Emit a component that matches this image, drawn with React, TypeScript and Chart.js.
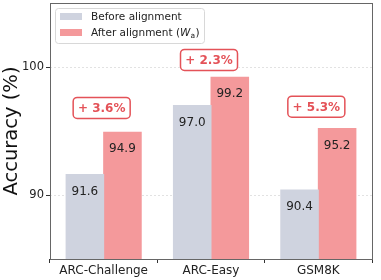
import React, { useEffect, useRef } from "react";
import { Chart, registerables } from "chart.js";

Chart.register(...registerables);

const categories = ["ARC-Challenge", "ARC-Easy", "GSM8K"];
const beforeValues = [91.6, 97.0, 90.4];
const afterValues = [94.9, 99.2, 95.2];
const gainLabels = ["+ 3.6%", "+ 2.3%", "+ 5.3%"];
const gainLabelY = [96.8, 100.55, 96.9];
const yTicks = [90, 100];

const FONT = "'DejaVu Sans', sans-serif";
const BEFORE_COLOR = "rgb(207,211,223)";
const AFTER_COLOR = "rgb(244,153,155)";
const RED = "rgb(228,82,88)";

function roundRect(ctx: CanvasRenderingContext2D, x: number, y: number, w: number, h: number, r: number) {
  ctx.beginPath();
  ctx.moveTo(x + r, y);
  ctx.lineTo(x + w - r, y);
  ctx.arcTo(x + w, y, x + w, y + r, r);
  ctx.lineTo(x + w, y + h - r);
  ctx.arcTo(x + w, y + h, x + w - r, y + h, r);
  ctx.lineTo(x + r, y + h);
  ctx.arcTo(x, y + h, x, y + h - r, r);
  ctx.lineTo(x, y + r);
  ctx.arcTo(x, y, x + r, y, r);
  ctx.closePath();
}

const overlayPlugin = {
  id: "overlay",
  afterDatasetsDraw(chart: any) {
    const ctx: CanvasRenderingContext2D = chart.ctx;
    const area = chart.chartArea;
    const yScale = chart.scales.y;
    ctx.save();
    // value labels
    ctx.font = `12px ${FONT}`;
    ctx.fillStyle = "#222";
    ctx.textAlign = "center";
    ctx.textBaseline = "middle";
    chart.data.datasets.forEach((ds: any, di: number) => {
      const meta = chart.getDatasetMeta(di);
      meta.data.forEach((bar: any, i: number) => {
        ctx.fillText(ds.data[i].toFixed(1), bar.x, bar.y + 17);
      });
    });
    // gain boxes
    const meta0 = chart.getDatasetMeta(0);
    const meta1 = chart.getDatasetMeta(1);
    ctx.font = `bold 12px ${FONT}`;
    gainLabels.forEach((t, i) => {
      const cx = (meta0.data[i].x + meta1.data[i].x) / 2 - 2;
      const cy = yScale.getPixelForValue(gainLabelY[i]);
      const w = 57, h = 21;
      roundRect(ctx, cx - w / 2, cy - h / 2, w, h, 4);
      ctx.fillStyle = "#fff";
      ctx.fill();
      ctx.lineWidth = 1.5;
      ctx.strokeStyle = RED;
      ctx.stroke();
      ctx.fillStyle = RED;
      ctx.fillText(t, cx, cy + 1);
    });
    // frame
    ctx.strokeStyle = "#666";
    ctx.lineWidth = 1;
    ctx.strokeRect(Math.round(area.left) + 0.5, Math.round(area.top) + 0.5, Math.round(area.right - area.left), Math.round(area.bottom - area.top));
    // legend
    const lx = 55, ly = 8, lw = 149, lh = 35;
    roundRect(ctx, lx + 0.5, ly + 0.5, lw, lh, 3);
    ctx.fillStyle = "rgba(255,255,255,0.8)";
    ctx.fill();
    ctx.strokeStyle = "#d8d8d8";
    ctx.lineWidth = 1;
    ctx.stroke();
    ctx.fillStyle = BEFORE_COLOR;
    ctx.fillRect(60, 13, 22, 7);
    ctx.fillStyle = AFTER_COLOR;
    ctx.fillRect(60, 29, 22, 7);
    ctx.fillStyle = "#222";
    ctx.textAlign = "left";
    ctx.font = `10.5px ${FONT}`;
    ctx.fillText("Before alignment", 91, 17);
    let x = 91;
    const s1 = "After alignment (";
    ctx.fillText(s1, x, 33);
    x += ctx.measureText(s1).width;
    ctx.font = `italic 10.5px ${FONT}`;
    ctx.fillText("W", x, 33);
    x += ctx.measureText("W").width;
    ctx.font = `7.5px ${FONT}`;
    ctx.fillText("a", x, 36);
    x += ctx.measureText("a").width + 0.5;
    ctx.font = `10.5px ${FONT}`;
    ctx.fillText(")", x, 33);
    ctx.restore();
  },
};

export default function App() {
  const ref = useRef<HTMLCanvasElement>(null);
  useEffect(() => {
    document.body.style.margin = "0";
    const chart = new Chart(ref.current!, {
      type: "bar",
      data: {
        labels: categories,
        datasets: [
          { label: "Before alignment", data: beforeValues, backgroundColor: BEFORE_COLOR, borderWidth: 0, inflateAmount: 0.5, categoryPercentage: 0.7, barPercentage: 1 },
          { label: "After alignment", data: afterValues, backgroundColor: AFTER_COLOR, borderWidth: 0, inflateAmount: 0.5, categoryPercentage: 0.7, barPercentage: 1 },
        ],
      },
      options: {
        animation: false,
        responsive: false,
        layout: { padding: { top: 3, right: 9, left: 0, bottom: 0 } },
        plugins: { legend: { display: false }, tooltip: { enabled: false } },
        scales: {
          x: {
            afterFit: (s: any) => { s.height = 21; s.paddingLeft = 0; s.paddingRight = 0; },
            grid: { display: true, drawOnChartArea: false, tickLength: 4, color: "#333" },
            border: { display: false },
            ticks: { color: "#222", font: { family: FONT, size: 12 }, padding: 1 },
          },
          y: {
            min: 85,
            max: 105,
            afterFit: (s: any) => { s.width = 50; s.paddingTop = 0; s.paddingBottom = 0; },
            afterBuildTicks: (s: any) => { s.ticks = yTicks.map((v) => ({ value: v })); },
            grid: { color: "#e2e2e2", tickColor: "#333", tickLength: 4, tickBorderDash: [] },
            border: { display: false, dash: [2, 2] },
            ticks: { color: "#222", font: { family: FONT, size: 11.5 }, padding: 2 },
            title: { display: true, text: "Accuracy (%)", color: "#111", font: { family: FONT, size: 19.5 }, padding: 0 },
          },
        },
      },
      plugins: [overlayPlugin],
    } as any);
    return () => chart.destroy();
  }, []);
  return <canvas ref={ref} width={381} height={280} style={{ display: "block" }} />;
}
